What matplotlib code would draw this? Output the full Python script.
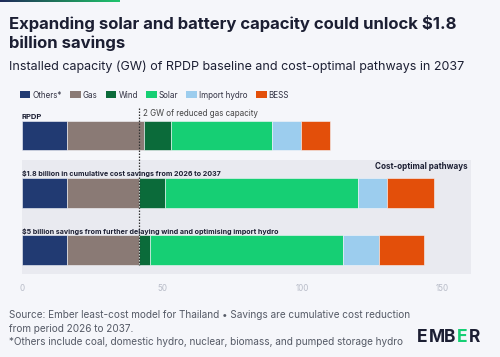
import numpy as np
import matplotlib
matplotlib.use("Agg")
import matplotlib.pyplot as plt
from matplotlib.patches import Rectangle, Patch
from matplotlib.colors import LinearSegmentedColormap

# data (GW)
scenarios = ["RPDP", "Cost-optimal 1", "Cost-optimal 2"]
techs = ["Others*", "Gas", "Wind", "Solar", "Import hydro", "BESS"]
others = [16.0, 16.0, 16.0]
gas = [27.7, 25.8, 25.8]
wind = [9.4, 9.4, 4.0]
solar = [36.2, 68.7, 68.6]
import_hydro = [10.2, 10.3, 12.8]
bess = [10.5, 16.7, 16.0]
ticks = [0, 50, 100, 150]

colors = ["#213a72", "#8a7a75", "#0b6b3a", "#16cf74", "#9ccdee", "#e34f0a"]
BG = "#f5f6fa"
PANEL = "#e9eaf0"
DARK = "#1c1f33"
FONT = "Inter"

W, H = 500, 357
fig = plt.figure(figsize=(W / 100, H / 100), dpi=100, facecolor=BG)
plt.rcParams["font.family"] = FONT


def px(x, y):
    return x / W, 1 - y / H


# gradient strip at the top
gax = fig.add_axes([0, 1 - 2.5 / H, 120 / W, 2.5 / H])
cmap = LinearSegmentedColormap.from_list("g", ["#1e2a5a", "#1f7a5a", "#20c46e"])
gax.imshow(np.linspace(0, 1, 100)[None, :], aspect="auto", cmap=cmap)
gax.axis("off")

fig.text(*px(9, 23), "Expanding solar and battery capacity could unlock $1.8",
         fontsize=12, fontweight="bold", color=DARK, va="center")
fig.text(*px(9, 43), "billion savings",
         fontsize=12, fontweight="bold", color=DARK, va="center")
fig.text(*px(9, 66.5), "Installed capacity (GW) of RPDP baseline and cost-optimal pathways in 2037",
         fontsize=9.0, color=DARK, va="center")

# main axes
top_px, bot_px = 100, 280
ax = fig.add_axes([21.7 / W, 1 - bot_px / H, (471 - 21.7) / W, (bot_px - top_px) / H])
ax.set_facecolor(BG)
ax.set_xlim(0, 160.1)
ax.set_ylim(2.52, -0.62)

ax.add_patch(Rectangle((0, 0.42), 160.1, 2.0, facecolor=PANEL, edgecolor="none", zorder=0))

y = np.arange(len(scenarios))
left = np.zeros(len(scenarios))
for name, vals, c in zip(techs, [others, gas, wind, solar, import_hydro, bess], colors):
    ax.barh(y, vals, left=left, height=0.52, color=c, edgecolor=BG, linewidth=0.4, zorder=2)
    left += np.array(vals)

# reduced-gas marker
gas_line = others[1] + gas[1]
ax.plot([gas_line, gas_line], [-0.48, 2.26], color="#333333", lw=0.9, ls=(0, (1.2, 1.2)), zorder=3)

ax.text(0, -0.33, "RPDP", fontsize=5.5, fontweight="bold", color=DARK, va="center")
ax.text(43.2, -0.39, "2 GW of reduced gas capacity", fontsize=5.8, color="#444444", va="center")
ax.text(159, 0.54, "Cost-optimal pathways", fontsize=5.8, fontweight="bold", color=DARK,
        va="center", ha="right")
ax.text(0, 0.67, "$1.8 billion in cumulative cost savings from 2026 to 2037",
        fontsize=5.1, fontweight="bold", color=DARK, va="center")
ax.text(0, 1.67, "$5 billion savings from further delaying wind and optimising import hydro",
        fontsize=5.1, fontweight="bold", color=DARK, va="center")

ax.set_xticks(ticks)
ax.set_xticklabels([str(t) for t in ticks], fontsize=5.8, color="#b8bcc8")
ax.tick_params(axis="x", length=0, pad=3)
ax.set_yticks([])
for s in ax.spines.values():
    s.set_visible(False)

# legend
handles = [Patch(facecolor=c, edgecolor="none") for c in colors]
fig.legend(handles, techs, loc="center left", bbox_to_anchor=px(19.5, 95), ncol=6,
           frameon=False, fontsize=5.8, handlelength=1.35, handleheight=0.9,
           handletextpad=0.25, columnspacing=1.0, labelcolor="#333344",
           borderpad=0, borderaxespad=0)

# footer
foot = "#555a66"
fig.text(*px(9, 315), "Source: Ember least-cost model for Thailand \u2022 Savings are cumulative cost reduction",
         fontsize=7.2, color=foot, va="center")
fig.text(*px(9, 328.5), "from period 2026 to 2037.", fontsize=7.2, color=foot, va="center")
fig.text(*px(9, 342), "*Others include coal, domestic hydro, nuclear, biomass, and pumped storage hydro",
         fontsize=7.2, color=foot, va="center")

# logo
lx, ly = 416.5, 338
for ch, c in zip("EMBER", [DARK, DARK, DARK, "#16cf74", DARK]):
    t = fig.text(*px(lx, ly), ch, fontsize=12.5, fontweight="bold", color=c, va="center")
    lx += {"E": 12.2, "M": 15.5, "B": 12.8, "R": 13}[ch]

fig.savefig("out.png", dpi=100, facecolor=BG)
